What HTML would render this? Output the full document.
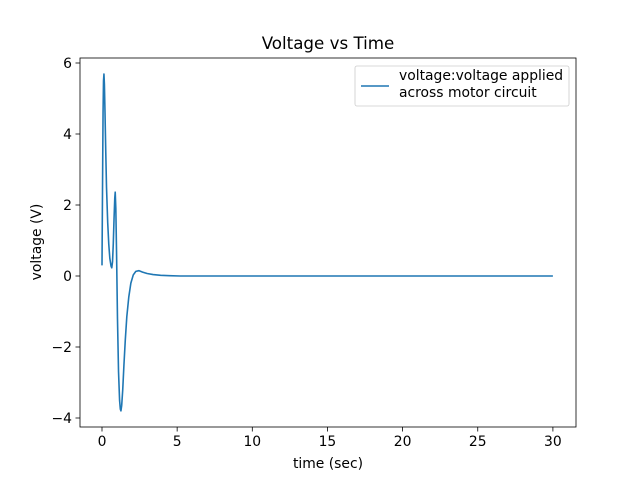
<!DOCTYPE html>
<html><head><meta charset="utf-8"><style>
body{margin:0;background:#fff;}
svg{font-family:"DejaVu Sans","Liberation Sans",sans-serif;}
</style></head><body>
<svg width="640" height="480" id="chart">
<rect width="640" height="480" fill="#fff"/>
<text x="328" y="49" text-anchor="middle" font-size="16.7">Voltage vs Time</text>
<text x="328" y="468" text-anchor="middle" font-size="13.9">time (sec)</text>
<text x="41" y="242" text-anchor="middle" font-size="13.9" transform="rotate(-90 41 242)">voltage (V)</text>
<g id="ticks"></g>
<polyline id="line" fill="none" stroke="#1f77b4" stroke-width="1.6" stroke-linejoin="round"/>
<rect x="80" y="58" width="496" height="369" fill="none" stroke="#000" stroke-width="0.8"/>
<g>
<rect x="355" y="66" width="214" height="40" rx="2" fill="#fff" stroke="#ccc" stroke-width="0.8"/>
<line x1="361" y1="86" x2="389" y2="86" stroke="#1f77b4" stroke-width="1.6"/>
<text x="399" y="80" font-size="13.9">voltage:voltage applied</text>
<text x="399" y="97" font-size="13.9">across motor circuit</text>
</g>
</svg>
<script>
const times=[0,0.03,0.07,0.1,0.13,0.16,0.2,0.25,0.3,0.38,0.45,0.52,0.6,0.65,0.7,0.75,0.8,0.85,0.88,0.92,0.97,1.03,1.1,1.17,1.22,1.26,1.31,1.38,1.46,1.55,1.65,1.78,1.92,2.08,2.25,2.45,2.7,3.0,3.4,3.9,4.5,5.2,10,30];
const volts=[0.3,2.2,4.6,5.5,5.69,5.4,4.6,3.5,2.5,1.5,0.9,0.5,0.28,0.23,0.4,0.9,1.6,2.2,2.36,1.9,0.6,-1.2,-2.7,-3.5,-3.75,-3.8,-3.65,-3.2,-2.5,-1.8,-1.15,-0.6,-0.2,0.03,0.13,0.15,0.11,0.07,0.04,0.02,0.01,0,0,0];
const xTicks=[0,5,10,15,20,25,30];
const yTicks=[-4,-2,0,2,4,6];
const X=t=>102+t*15.03;
const Y=v=>276-v*35.5;
const ns="http://www.w3.org/2000/svg";
const g=document.getElementById('ticks');
xTicks.forEach(t=>{
 const l=document.createElementNS(ns,'line');
 l.setAttribute('x1',X(t));l.setAttribute('x2',X(t));l.setAttribute('y1',427);l.setAttribute('y2',431.5);l.setAttribute('stroke','#000');l.setAttribute('stroke-width','0.8');
 
 
 g.appendChild(l);
 const tx=document.createElementNS(ns,'text');
 tx.setAttribute('x',X(t));tx.setAttribute('y',446);tx.setAttribute('text-anchor','middle');tx.setAttribute('font-size','13.9');
 tx.textContent=t;
 
 
 g.appendChild(tx);
});
yTicks.forEach(v=>{
 const l=document.createElementNS(ns,'line');
 l.setAttribute('x1',75.5);l.setAttribute('x2',80);l.setAttribute('y1',Y(v));l.setAttribute('y2',Y(v));l.setAttribute('stroke','#000');l.setAttribute('stroke-width','0.8');
 
 
 g.appendChild(l);
 const tx=document.createElementNS(ns,'text');
 tx.setAttribute('x',72);tx.setAttribute('y',Y(v)+5);tx.setAttribute('text-anchor','end');tx.setAttribute('font-size','13.9');
 tx.textContent=v<0?'\u2212'+(-v):v;
 
 
 g.appendChild(tx);
});
document.getElementById('line').setAttribute('points',times.map((t,i)=>X(t)+','+Y(volts[i])).join(' '));
</script>
</body></html>
